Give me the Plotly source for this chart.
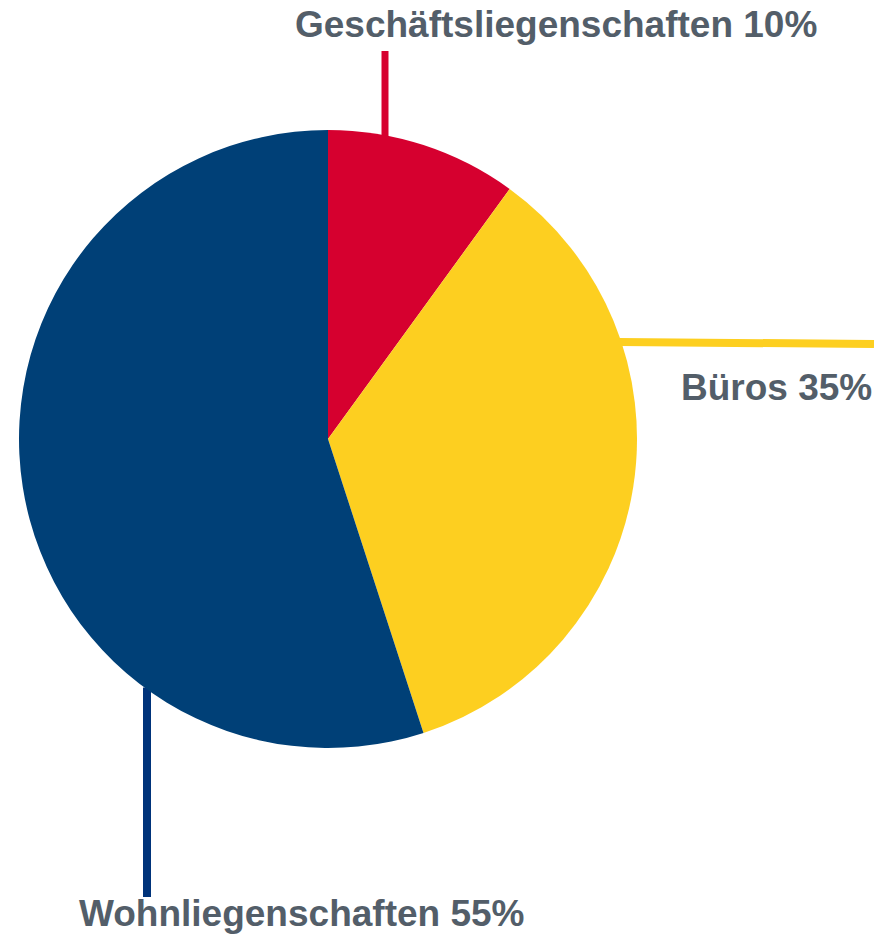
import math
import plotly.graph_objects as go

# the page adds an 8px body margin, so the figure is sized to the visible area
PAD = 8
W, H = 892 - PAD, 936 - PAD

# -------------------- data --------------------
labels = ["Geschäftsliegenschaften", "Büros", "Wohnliegenschaften"]
shares = [10, 35, 55]
slice_colors = ["#D6002F", "#FDCF20", "#004077"]
leader_colors = ["#D6002F", "#FDCF20", "#00337A"]

text_c = "#535E69"

# pie geometry (window pixels)
cx, cy, r = 328, 439, 309


def px(x):
    return (x - PAD) / W


def py(y):
    return 1 - (y - PAD) / H


fig = go.Figure(go.Pie(
    labels=labels,
    values=shares,
    sort=False,
    direction="clockwise",
    rotation=0,
    marker=dict(colors=slice_colors, line=dict(width=0)),
    textinfo="none",
    hoverinfo="label+percent",
    showlegend=False,
    domain=dict(x=[px(cx - r), px(cx + r)], y=[py(cy + r), py(cy - r)]),
))

# leader lines: attach to the circle edge
shapes = []
# red - vertical, up from the top of the pie
x0 = 385
y_edge = cy - math.sqrt(r**2 - (x0 - cx) ** 2)
shapes.append(dict(x0=px(x0), x1=px(x0), y0=py(y_edge + 2), y1=py(51),
                   line=dict(color=leader_colors[0], width=7)))
# yellow - horizontal to the right
y0 = 342
x_edge = cx + math.sqrt(r**2 - (y0 - cy) ** 2)
shapes.append(dict(x0=px(x_edge - 2), x1=px(874), y0=py(y0), y1=py(y0 + 2),
                   line=dict(color=leader_colors[1], width=8)))
# blue - vertical, down from lower left
x0 = 147
y_edge = cy + math.sqrt(r**2 - (x0 - cx) ** 2)
shapes.append(dict(x0=px(x0), x1=px(x0), y0=py(y_edge - 2), y1=py(897),
                   line=dict(color=leader_colors[2], width=8)))
for s in shapes:
    s.update(type="line", xref="paper", yref="paper", layer="below")

# labels
label_pos = [(556, 25, "center"), (874, 387, "right"), (301, 913, "center")]
annotations = []
for (lx, ly, anchor), name, v in zip(label_pos, labels, shares):
    annotations.append(dict(
        x=px(lx), y=py(ly), xref="paper", yref="paper",
        xanchor=anchor, yanchor="middle", showarrow=False,
        text=f"<b>{name} {v}%</b>",
        font=dict(family="Liberation Sans, Arial", size=37, color=text_c),
    ))

fig.update_layout(
    width=W, height=H,
    margin=dict(l=0, r=0, t=0, b=0),
    paper_bgcolor="white",
    plot_bgcolor="white",
    shapes=shapes,
    annotations=annotations,
)

fig.write_html("out.html")
